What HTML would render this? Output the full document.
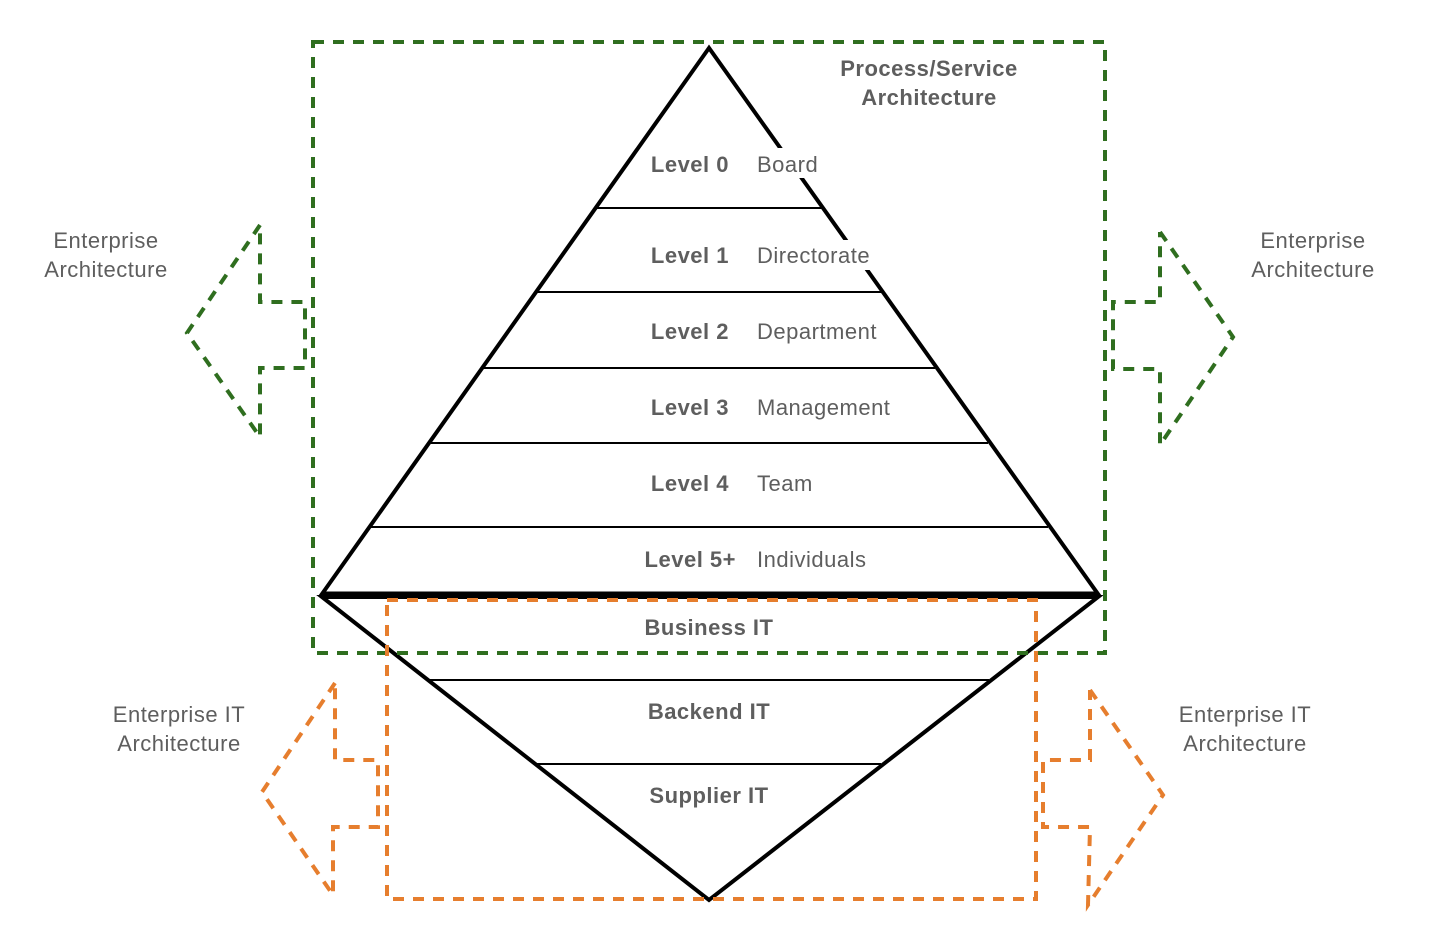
<!DOCTYPE html>
<html><head><meta charset="utf-8"><style>
html,body{margin:0;padding:0;background:#fff;}
svg{display:block;}
text{font-family:"Liberation Sans",Arial,sans-serif;font-size:22px;letter-spacing:0.5px;fill:#5e5e5e;}
.b{font-weight:bold;}
</style></head><body>
<svg width="1429" height="940" viewBox="0 0 1429 940">
<polygon points="709,48 322,594 1098,594" fill="none" stroke="#000" stroke-width="4" stroke-linejoin="miter"/>
<polygon points="322,597 1098,597 709,900" fill="none" stroke="#000" stroke-width="4"/>
<line x1="322" y1="595" x2="1098" y2="595" stroke="#000" stroke-width="7"/>
<g stroke="#000" stroke-width="2">
<line x1="596" y1="208" x2="822" y2="208"/>
<line x1="537" y1="292" x2="881" y2="292"/>
<line x1="484" y1="368" x2="935" y2="368"/>
<line x1="431" y1="443" x2="988" y2="443"/>
<line x1="371" y1="527" x2="1048" y2="527"/>
<line x1="429" y1="680" x2="989" y2="680"/>
<line x1="537" y1="764" x2="881" y2="764"/>
</g>
<g fill="none" stroke="#2f6e1f" stroke-width="4" stroke-dasharray="11,9">
<rect x="313" y="42" width="792" height="611"/>
<polyline points="260,225 187,333 260,437 260,368 305,368 305,302 260,302 260,225"/>
<polyline points="1160,232 1233,337 1160,445 1160,369 1113,369 1113,302 1160,302 1160,232"/>
</g>
<g fill="none" stroke="#e67e2e" stroke-width="4" stroke-dasharray="11,9">
<rect x="387" y="600" width="649" height="299"/>
<polyline points="335,683 262,792 333,895 333,827 378,827 378,760 335,760 335,683"/>
<polyline points="1090,690 1163,795 1088,905 1090,827 1043,827 1043,760 1090,760 1090,690"/>
</g>
<rect x="755" y="148" width="70" height="30" fill="#fff"/>
<rect x="755" y="240" width="124" height="30" fill="#fff"/>
<text x="729" y="172" text-anchor="end" class="b">Level 0</text>
<text x="729" y="263" text-anchor="end" class="b">Level 1</text>
<text x="729" y="339" text-anchor="end" class="b">Level 2</text>
<text x="729" y="415" text-anchor="end" class="b">Level 3</text>
<text x="729" y="491" text-anchor="end" class="b">Level 4</text>
<text x="736" y="567" text-anchor="end" class="b">Level 5+</text>
<text x="709" y="635" text-anchor="middle" class="b">Business IT</text>
<text x="709" y="719" text-anchor="middle" class="b">Backend IT</text>
<text x="709" y="803" text-anchor="middle" class="b">Supplier IT</text>
<text x="929" y="76" text-anchor="middle" class="b">Process/Service</text>
<text x="929" y="105" text-anchor="middle" class="b">Architecture</text>
<text x="757" y="172">Board</text>
<text x="757" y="263">Directorate</text>
<text x="757" y="339">Department</text>
<text x="757" y="415">Management</text>
<text x="757" y="491">Team</text>
<text x="757" y="567">Individuals</text>
<text x="106" y="248" text-anchor="middle">Enterprise</text>
<text x="106" y="277" text-anchor="middle">Architecture</text>
<text x="1313" y="248" text-anchor="middle">Enterprise</text>
<text x="1313" y="277" text-anchor="middle">Architecture</text>
<text x="179" y="722" text-anchor="middle">Enterprise IT</text>
<text x="179" y="751" text-anchor="middle">Architecture</text>
<text x="1245" y="722" text-anchor="middle">Enterprise IT</text>
<text x="1245" y="751" text-anchor="middle">Architecture</text>
</svg>
</body></html>
